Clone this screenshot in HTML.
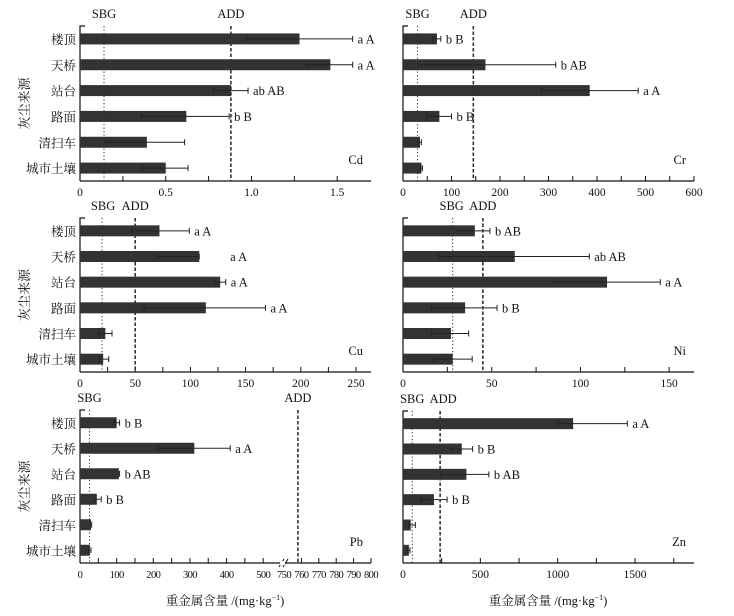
<!DOCTYPE html>
<html><head><meta charset="utf-8">
<style>
body{margin:0;background:#fff;width:734px;height:611px;overflow:hidden}
svg text{font-family:"Liberation Serif","Noto Serif CJK SC","Noto Sans CJK SC",serif;fill:#111}
</style></head>
<body>
<svg id="chart" width="734" height="611" viewBox="0 0 734 611" xmlns="http://www.w3.org/2000/svg"></svg>
<script>
const categories = ["楼顶","天桥","站台","路面","清扫车","城市土壤"];
const cdValues = [1.28,1.46,0.88,0.62,0.39,0.50];
const cdLo = [0.97,1.32,0.78,0.36,0.15,0.36];
const cdHi = [1.59,1.59,0.98,0.87,0.61,0.63];
const cdLabels = ["a A","a A","ab AB","b B","",""];
const crValues = [70,170,385,75,35,38];
const crLo = [62,30,285,50,33,36];
const crHi = [78,315,485,100,38,40];
const crLabels = ["b B","b AB","a A","b B","",""];
const cuValues = [72,108,127,114,23,21];
const cuLo = [47,70,122,58,17,17];
const cuHi = [99,108,132,168,29,26];
const cuLabels = ["a A","a A","a A","a A","",""];
const niValues = [40.5,63,115,35,27,28];
const niLo = [31,20,85,16,16,17];
const niHi = [49,105,145,53,37,39];
const niLabels = ["b AB","ab AB","a A","b B","",""];
const pbValues = [100,312,106,46,30,27];
const pbLo = [95,212,104,40,28,24];
const pbHi = [108,410,108,58,32,30];
const pbLabels = ["b B","a A","b AB","b B","",""];
const znValues = [1100,380,410,200,50,38];
const znLo = [1000,310,250,115,40,30];
const znHi = [1450,450,555,285,80,45];
const znLabels = ["a A","b B","b AB","b B","",""];
const sbgValues = {Cd:0.14,Cr:30,Cu:20,Ni:28,Pb:26,Zn:60};
const addValues = {Cd:0.88,Cr:145,Cu:50,Ni:45,Pb:758,Zn:240};
const cdTicks = [0,0.5,1.0,1.5];
const crTicks = [0,100,200,300,400,500,600];
const cuTicks = [0,50,100,150,200,250];
const niTicks = [0,50,100,150];
const pbTicks = [0,100,200,300,400,500,750,760,770,780,790,800];
const znTicks = [0,500,1000,1500];

const svg = document.getElementById('chart');
const NS = "http://www.w3.org/2000/svg";
function mk(tag, attrs, parent, txt){
  const e = document.createElementNS(NS, tag);
  for (const k in attrs) e.setAttribute(k, attrs[k]);
  if (txt !== undefined) e.textContent = txt;
  (parent||svg).appendChild(e);
  return e;
}

function panel(p){
  const g = mk('g',{});
  
  
  const sx = p.scale, x0 = p.x0, x1 = p.x1, top = p.top, ay = p.axisY;
  const rowH = (ay - top) / 6;
  const yl = mk('path',{d:`M${x0+5},${top} H${x0} V${ay}`,stroke:'#111','stroke-width':1.2,fill:'none'},g);
  
  
  const xl = mk('line',{x1:x0,x2:x1,y1:ay,y2:ay,stroke:'#111','stroke-width':1.2},g);
  
  
  p.tickPos.forEach(v=>{
    mk('line',{x1:sx(v),x2:sx(v),y1:ay,y2:ay-5,stroke:'#111','stroke-width':1},g);
  });
  p.ticks.forEach(v=>{
    const attrs = {x:sx(v),y:ay+15,'text-anchor':'middle','font-size':p.tickFs||11.5};
    if (p.tickLs) attrs['letter-spacing'] = p.tickLs;
    const t = mk('text',attrs,g,p.fmt?p.fmt(v):String(v));
    
    
  });
  if (p.showCats){
    categories.forEach((c,i)=>{
      const t = mk('text',{x:x0-4,y:top+rowH*(i+0.5)+5,'text-anchor':'end','font-size':12.5},g,c);
      
      
    });
    const cy = (top+ay)/2;
    const yt = mk('text',{x:29,y:cy,'text-anchor':'middle','font-size':13,transform:`rotate(-90 29 ${cy})`},g,'灰尘来源');
    
    
  }
  p.values.forEach((v,i)=>{
    const cy = top + rowH*(i+0.5);
    const b = mk('rect',{x:x0,y:cy-5.5,width:sx(v)-x0,height:11,fill:'#333'},g);
    
    
    const lo = sx(p.lo[i]), hi = sx(p.hi[i]);
    const eb = mk('path',{d:`M${lo},${cy} H${hi} M${lo},${cy-3} V${cy+3} M${hi},${cy-3} V${cy+3}`,stroke:'#222','stroke-width':1,fill:'none'},g);
    
    
    if (p.labels[i]){
      const lx = (p.labelAt && p.labelAt[i]!=null) ? sx(p.labelAt[i]) : Math.max(sx(v),hi)+5;
      const t = mk('text',{x:lx,y:cy+4.5,'font-size':12.5},g,p.labels[i]);
      
      
    }
  });
  const sbg = sx(sbgValues[p.name]), add = sx(addValues[p.name]);
  const s1 = mk('line',{x1:sbg,x2:sbg,y1:top,y2:ay,stroke:'#333','stroke-width':1,'stroke-dasharray':'1.2,2.3'},g);
  
  
  const a1 = mk('line',{x1:add,x2:add,y1:top,y2:ay,stroke:'#333','stroke-width':1.6,'stroke-dasharray':'3.5,2'},g);
  
  
  const st = mk('text',{x:sbg+(p.sbgDx||0),y:top-8,'text-anchor':'middle','font-size':12.5},g,'SBG');
  
  
  const at = mk('text',{x:add+(p.addDx||0),y:top-8,'text-anchor':'middle','font-size':12.5},g,'ADD');
  
  
  const et = mk('text',{x:x1-8,y:ay-17,'text-anchor':'end','font-size':12.5},g,p.name);
  
  
  if (p.xTitle){
    const xt = mk('text',{x:p.xTitle,y:605,'text-anchor':'middle','font-size':12.5},g);
    
    
    xt.innerHTML = '重金属含量 /(mg·kg<tspan dy="-5" font-size="8">−1</tspan><tspan dy="5">)</tspan>';
  }
}
function rng(a,b,s){const r=[];for(let v=a;v<=b+1e-9;v+=s)r.push(+v.toFixed(4));return r;}
function lin(x0,x1,max){return v=>x0+(x1-x0)*v/max;}

panel({name:'Cd',x0:80,x1:371,top:26,axisY:181,scale:lin(80,371,1.697),values:cdValues,lo:cdLo,hi:cdHi,labels:cdLabels,
  ticks:cdTicks,tickPos:rng(0.25,1.5,0.25),fmt:v=>v===1?'1.0':String(v),showCats:true});
panel({name:'Cr',x0:403,x1:694,top:26,axisY:181,scale:lin(403,694,600),values:crValues,lo:crLo,hi:crHi,labels:crLabels,
  ticks:crTicks,tickPos:rng(50,600,50),showCats:false});
panel({name:'Cu',x0:80,x1:371,top:218,axisY:372,scale:lin(80,371,263.6),values:cuValues,lo:cuLo,hi:cuHi,labels:cuLabels,labelAt:[null,136,null,null,null,null],
  ticks:cuTicks,tickPos:rng(25,250,25),showCats:true,sbgDx:1});
panel({name:'Ni',x0:403,x1:694,top:218,axisY:372,scale:lin(403,694,164),values:niValues,lo:niLo,hi:niHi,labels:niLabels,
  ticks:niTicks,tickPos:rng(25,150,25),showCats:false,sbgDx:-1});
const pbScale = v => v<=525 ? 80 + v*0.3664 : 284 + (v-750)*1.74;
panel({name:'Pb',x0:80,x1:371,top:410,axisY:563,scale:pbScale,values:pbValues,lo:pbLo,hi:pbHi,labels:pbLabels,
  ticks:pbTicks,tickPos:rng(50,500,50).concat(rng(760,800,10)),showCats:true,xTitle:225,tickFs:10.5,tickLs:-0.6});
panel({name:'Zn',x0:403,x1:694,top:411,axisY:563,scale:lin(403,694,1881),values:znValues,lo:znLo,hi:znHi,labels:znLabels,
  ticks:znTicks,tickPos:rng(250,1750,250),showCats:false,xTitle:548,addDx:3});
const br = mk('path',{d:'M279,567 L284,559 M283,567 L288,559',stroke:'#111','stroke-width':1,fill:'none'});


const bw = mk('rect',{x:280,y:561,width:5,height:4,fill:'#fff'});


</script>
</body></html>
